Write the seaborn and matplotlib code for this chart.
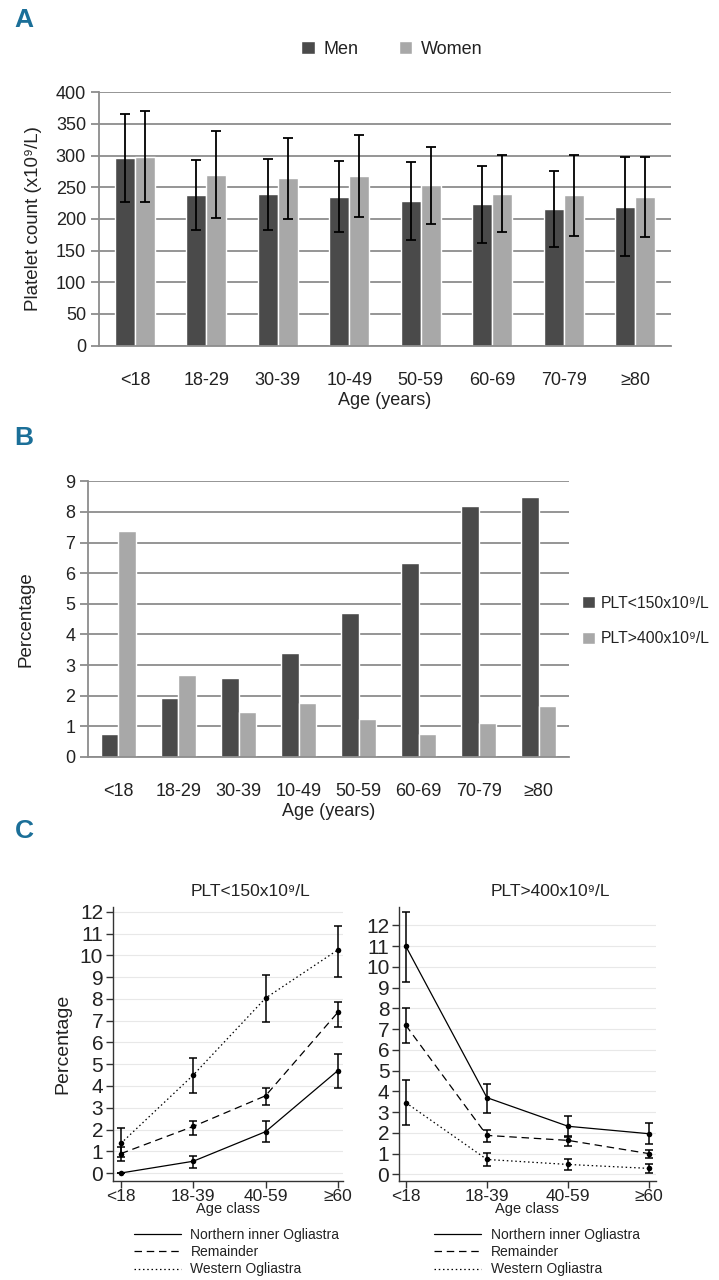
import numpy as np
import pandas as pd
import matplotlib
matplotlib.use("Agg")
import matplotlib.pyplot as plt
import seaborn as sns

# ---------------- data ----------------
age_groups = ['<18', '18-29', '30-39', '10-49', '50-59', '60-69', '70-79', '≥80']
men_mean = [296, 238, 239, 235, 228, 223, 216, 219]
men_sd = [70, 55, 56, 56, 62, 61, 60, 78]
women_mean = [298, 270, 264, 268, 253, 240, 237, 234]
women_sd = [72, 68, 64, 65, 61, 61, 64, 63]

plt_low_pct = [0.76, 1.93, 2.57, 3.41, 4.70, 6.33, 8.18, 8.50]
plt_high_pct = [7.37, 2.67, 1.46, 1.77, 1.25, 0.75, 1.11, 1.68]

age_classes = ['<18', '18-39', '40-59', '≥60']
regions = ['Northern inner Ogliastra', 'Remainder', 'Western Ogliastra']
# PLT<150
low_north = [0.0, 0.54, 1.90, 4.71]
low_north_lo = [0.0, 0.23, 1.41, 3.90]
low_north_hi = [0.0, 0.80, 2.37, 5.46]
low_rem = [0.89, 2.14, 3.55, 7.39]
low_rem_lo = [0.55, 1.76, 3.14, 6.73]
low_rem_hi = [1.20, 2.37, 3.90, 7.88]
low_west = [1.36, 4.50, 8.04, 10.26]
low_west_lo = [0.75, 3.67, 6.96, 9.03]
low_west_hi = [2.05, 5.27, 9.08, 11.37]
# PLT>400
high_north = [11.0, 3.70, 2.32, 1.96]
high_north_lo = [9.28, 2.98, 1.82, 1.45]
high_north_hi = [12.64, 4.36, 2.81, 2.48]
high_rem = [7.19, 1.88, 1.64, 1.00]
high_rem_lo = [6.34, 1.56, 1.35, 0.77]
high_rem_hi = [8.03, 2.16, 1.87, 1.19]
high_west = [3.46, 0.72, 0.48, 0.29]
high_west_lo = [2.36, 0.40, 0.19, 0.08]
high_west_hi = [4.54, 1.05, 0.72, 0.48]

# ---------------- style ----------------
sns.set_theme(style='white')
FAM = ['Liberation Sans', 'DejaVu Sans']
plt.rcParams['font.family'] = FAM
plt.rcParams['axes.unicode_minus'] = False

DARK = '#4a4a4a'
LIGHT = '#a8a8a8'
GRID = '#8c8c8c'
TEAL = '#1b6f98'
TXT = '#222222'

fig = plt.figure(figsize=(7.19, 12.8), dpi=100)

# ---------------- Panel A ----------------
axA = fig.add_axes([0.138, 0.730, 0.795, 0.198])
dfA = pd.DataFrame({
    'age': age_groups * 2,
    'sex': ['Men'] * len(age_groups) + ['Women'] * len(age_groups),
    'value': men_mean + women_mean,
})
sns.barplot(data=dfA, x='age', y='value', hue='sex', order=age_groups,
            hue_order=['Men', 'Women'], palette={'Men': DARK, 'Women': LIGHT},
            saturation=1, width=0.56, errorbar=None, ax=axA, zorder=2)
sds = men_sd + women_sd
means = men_mean + women_mean
bars = [p for p in axA.patches if p.get_height() > 0]
for p, m, s in zip(bars, means, sds):
    cx = p.get_x() + p.get_width() / 2
    axA.errorbar(cx, m, yerr=s, fmt='none', ecolor='black', elinewidth=1.3,
                 capsize=3.5, capthick=1.3, zorder=3)
axA.set_ylim(0, 400)
axA.set_xlim(-0.5, len(age_groups) - 0.5)
axA.set_yticks(np.arange(0, 401, 50))
axA.set_axisbelow(True)
axA.yaxis.grid(True, color=GRID, lw=1.3)
axA.xaxis.grid(False)
for s in ['top', 'right']:
    axA.spines[s].set_visible(False)
for s in ['left', 'bottom']:
    axA.spines[s].set_color(GRID)
    axA.spines[s].set_linewidth(1.3)
axA.set_xticks(np.arange(-0.5, len(age_groups), 1.0), minor=True)
axA.tick_params(axis='x', which='major', length=0, pad=19, labelsize=13, labelcolor=TXT)
axA.tick_params(axis='x', which='minor', length=6, width=1.3, color=GRID, direction='out')
axA.tick_params(axis='y', length=6, width=1.3, color=GRID, labelsize=13, labelcolor=TXT,
                left=True, direction='out')
axA.set_xlabel('Age (years)', fontsize=13, color=TXT, labelpad=2)
axA.set_ylabel('Platelet count (x10⁹/L)', fontsize=13.5, color=TXT, labelpad=10)
hA, lA = axA.get_legend_handles_labels()
axA.legend(hA, lA, loc='center', bbox_to_anchor=(392 / 719, 1 - 49 / 1280),
           bbox_transform=fig.transFigure, ncol=2, frameon=False, fontsize=13,
           handlelength=0.75, handleheight=0.75, handletextpad=0.5,
           columnspacing=2.2, labelcolor=TXT)

# ---------------- Panel B ----------------
axB = fig.add_axes([0.123, 0.4086, 0.668, 0.2154])
dfB = pd.DataFrame({
    'age': age_groups * 2,
    'grp': ['PLT<150x10⁹/L'] * len(age_groups) + ['PLT>400x10⁹/L'] * len(age_groups),
    'value': plt_low_pct + plt_high_pct,
})
sns.barplot(data=dfB, x='age', y='value', hue='grp', order=age_groups,
            hue_order=['PLT<150x10⁹/L', 'PLT>400x10⁹/L'],
            palette={'PLT<150x10⁹/L': DARK, 'PLT>400x10⁹/L': LIGHT},
            saturation=1, width=0.58, errorbar=None, ax=axB, zorder=2)
axB.set_ylim(0, 9)
axB.set_xlim(-0.5, len(age_groups) - 0.5)
axB.set_yticks(np.arange(0, 10, 1))
axB.set_axisbelow(True)
axB.yaxis.grid(True, color=GRID, lw=1.3)
axB.xaxis.grid(False)
for s in ['top', 'right']:
    axB.spines[s].set_visible(False)
for s in ['left', 'bottom']:
    axB.spines[s].set_color(GRID)
    axB.spines[s].set_linewidth(1.3)
axB.set_xticks(np.arange(-0.5, len(age_groups), 1.0), minor=True)
axB.tick_params(axis='x', which='major', length=0, pad=19, labelsize=13, labelcolor=TXT)
axB.tick_params(axis='x', which='minor', length=6, width=1.3, color=GRID, direction='out')
axB.tick_params(axis='y', length=6, width=1.3, color=GRID, labelsize=13, labelcolor=TXT,
                left=True, direction='out')
axB.set_xlabel('Age (years)', fontsize=13, color=TXT, labelpad=2)
axB.set_ylabel('Percentage', fontsize=13.5, color=TXT, labelpad=22)
hB, lB = axB.get_legend_handles_labels()
axB.legend(hB, lB, loc='center left', bbox_to_anchor=(582 / 719, 1 - 621 / 1280),
           bbox_transform=fig.transFigure, ncol=1, frameon=False, fontsize=11.3,
           handlelength=0.8, handleheight=0.8, handletextpad=0.4,
           labelspacing=1.3, borderaxespad=0, borderpad=0, labelcolor=TXT)

# ---------------- Panel C ----------------
dash_map = {regions[0]: '', regions[1]: (6, 3.8), regions[2]: (1.2, 2.2)}


def panel_c(ax, vals, los, his, ylim, title, title_x, show_ylabel, leg_xy):
    xs = np.arange(len(age_classes))
    df = pd.DataFrame({
        'x': np.tile(xs, len(regions)),
        'region': np.repeat(regions, len(age_classes)),
        'value': np.concatenate(vals),
    })
    sns.lineplot(data=df, x='x', y='value', style='region', style_order=regions,
                 dashes=dash_map, color='black', lw=0.9, ax=ax, legend='full',
                 marker='o', markersize=4, markeredgewidth=0, zorder=3)
    for v, lo, hi in zip(vals, los, his):
        v = np.asarray(v); lo = np.asarray(lo); hi = np.asarray(hi)
        ax.errorbar(xs, v, yerr=[v - lo, hi - v], fmt='none', ecolor='black',
                    elinewidth=1.1, capsize=3, capthick=1.1, zorder=3)
    ax.set_ylim(*ylim)
    ax.set_xticks(xs)
    ax.set_xticklabels(age_classes)
    ax.set_yticks(np.arange(0, 13, 1))
    ax.set_axisbelow(True)
    ax.yaxis.grid(True, color='#e8e8e8', lw=0.8)
    ax.xaxis.grid(False)
    for s in ['top', 'right']:
        ax.spines[s].set_visible(False)
    for s in ['left', 'bottom']:
        ax.spines[s].set_color('#333333')
        ax.spines[s].set_linewidth(1.0)
    ax.tick_params(axis='both', length=5, width=1.0, color='#333333', direction='out',
                   bottom=True, left=True)
    ax.tick_params(axis='y', labelsize=15, pad=2, labelcolor=TXT)
    ax.tick_params(axis='x', labelsize=12.5, pad=1, labelcolor=TXT)
    ax.set_xlabel('Age class', fontsize=10.5, color=TXT, labelpad=-2)
    ax.set_ylabel('Percentage' if show_ylabel else '', fontsize=14, color=TXT, labelpad=6)
    ax.set_title(title, x=title_x, fontsize=12.5, color=TXT, pad=8)
    h, l = ax.get_legend_handles_labels()
    ax.legend(h, l, loc='upper left', bbox_to_anchor=leg_xy,
              bbox_transform=fig.transFigure, frameon=False, fontsize=10,
              handlelength=3.4, handletextpad=0.7, labelspacing=0.25,
              borderaxespad=0, labelcolor=TXT)
    for line in ax.get_legend().get_lines():
        line.set_marker('')


axC1 = fig.add_axes([0.157, 0.0773, 0.320, 0.2143])
axC1.set_xlim(-0.11, 3.07)
panel_c(axC1, [low_north, low_rem, low_west], [low_north_lo, low_rem_lo, low_west_lo],
        [low_north_hi, low_rem_hi, low_west_hi], (-0.37, 12.24),
        'PLT<150x10⁹/L', 0.60, True, (128 / 719, 1 - 1222 / 1280))
axC1.set_xlim(-0.11, 3.07)

axC2 = fig.add_axes([0.555, 0.0773, 0.357, 0.2143])
panel_c(axC2, [high_north, high_rem, high_west], [high_north_lo, high_rem_lo, high_west_lo],
        [high_north_hi, high_rem_hi, high_west_hi], (-0.32, 12.9),
        'PLT>400x10⁹/L', 0.59, False, (428 / 719, 1 - 1222 / 1280))
axC2.set_xlim(-0.083, 3.08)

# ---------------- panel letters ----------------
for letter, (x, y) in {'A': (14, 20), 'B': (14, 438), 'C': (15, 831)}.items():
    fig.text(x / 719, 1 - y / 1280, letter, fontsize=19, fontweight='bold',
             color=TEAL, ha='left', va='center', family=FAM)

fig.savefig('out.png', dpi=100)
